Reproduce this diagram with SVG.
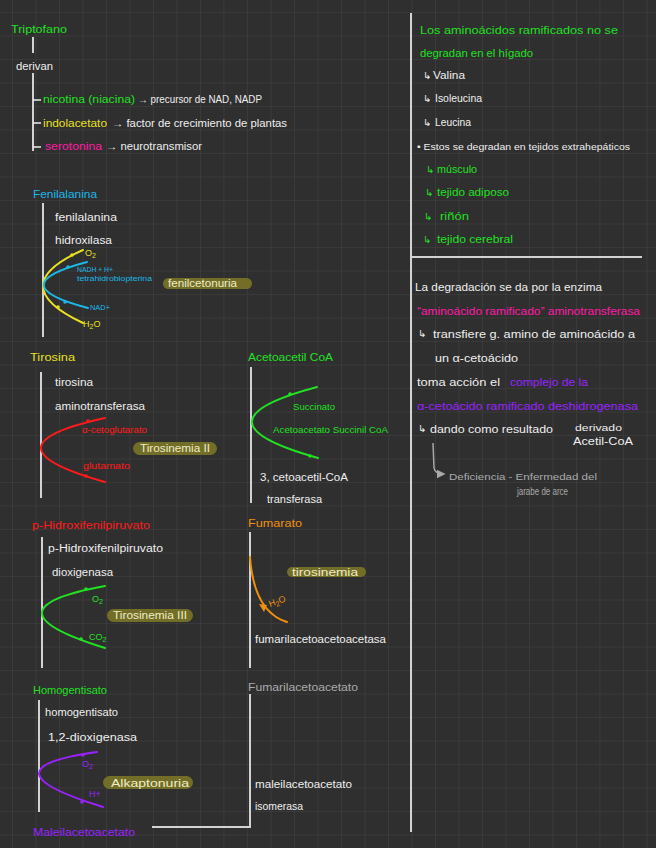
<svg xmlns="http://www.w3.org/2000/svg" width="656" height="848" viewBox="0 0 656 848">
<defs>
<pattern id="grid" x="12" y="12" width="23.5" height="23.5" patternUnits="userSpaceOnUse">
<path d="M0,0 H23.5 M0,0 V23.5" stroke="#3d3d3d" stroke-width="1.6" fill="none"/>
</pattern>
<marker id="ah" viewBox="0 0 6 6" refX="5" refY="3" markerWidth="6" markerHeight="6" orient="auto">
<path d="M0,0 L6,3 L0,6 z" fill="#a8a8a8"/>
</marker>
</defs>
<style>
text{font-family:"Liberation Sans","DejaVu Sans",Arial,sans-serif;font-size:10px;}
.h{font-size:11px;}
.s{font-size:9px;}
.xs{font-size:7px;}
.sym{font-family:"DejaVu Sans",sans-serif;font-size:10px;}
.w{fill:#eeeeee;}
.gr{fill:#aaaaaa;}
.g{fill:#22e022;}
.c{fill:#1cb8ea;}
.y{fill:#e8e020;}
.r{fill:#ff1a1a;}
.m{fill:#ff1aa8;}
.p{fill:#9a22ff;}
.o{fill:#f0900f;}
.pilltext{fill:#efecc4;}
.vl{stroke:#d2d2d2;stroke-width:2;fill:none;}
.pill{fill:#726e28;}
.cv{fill:none;stroke-width:2;stroke-linecap:round;}
</style>
<rect width="656" height="848" fill="#2f2f2f"/>
<rect width="656" height="848" fill="url(#grid)"/>

<g id="dividers">
<line class="vl" x1="411" y1="13" x2="411" y2="832"/>
<line class="vl" x1="411" y1="257" x2="642" y2="257"/>
</g>

<g id="triptofano">
<text class="g h" x="11" y="33" textLength="56" lengthAdjust="spacingAndGlyphs">Triptofano</text>
<line class="vl" x1="33" y1="37" x2="33" y2="53"/>
<text class="w" x="16" y="70" textLength="37" lengthAdjust="spacingAndGlyphs">derivan</text>
<line class="vl" x1="33" y1="73" x2="33" y2="151"/>
<g stroke="#eeeeee" stroke-width="1.5">
<line x1="33" y1="100" x2="41" y2="100"/>
<line x1="33" y1="123" x2="41" y2="123"/>
<line x1="33" y1="147" x2="41" y2="147"/>
</g>
<text class="g" x="43" y="103" textLength="92" lengthAdjust="spacingAndGlyphs">nicotina (niacina)</text>
<text class="w" x="138" y="103" textLength="124" lengthAdjust="spacingAndGlyphs">→ precursor de NAD, NADP</text>
<text class="y" x="43" y="127" textLength="64" lengthAdjust="spacingAndGlyphs">indolacetato</text>
<text class="w" x="112" y="127" textLength="175" lengthAdjust="spacingAndGlyphs">→ factor de crecimiento de plantas</text>
<text class="m" x="45" y="150" textLength="57" lengthAdjust="spacingAndGlyphs">serotonina</text>
<text class="w" x="106" y="150" textLength="96" lengthAdjust="spacingAndGlyphs">→ neurotransmisor</text>
</g>

<g id="fenilalanina">
<text class="c h" x="33" y="198" textLength="64" lengthAdjust="spacingAndGlyphs">Fenilalanina</text>
<line class="vl" x1="43" y1="203" x2="43" y2="337"/>
<text class="w" x="55" y="221" textLength="62" lengthAdjust="spacingAndGlyphs">fenilalanina</text>
<text class="w" x="55" y="244" textLength="57" lengthAdjust="spacingAndGlyphs">hidroxilasa</text>
<path class="cv" stroke="#e8e020" d="M83,250 Q3,285.5 83,323"/>
<path class="cv" stroke="#1cb8ea" d="M87,262 Q0,285 88,308"/>
<circle cx="72" cy="255" r="1.8" fill="#e8e020"/>
<circle cx="58" cy="307" r="1.8" fill="#e8e020"/>
<circle cx="68" cy="267" r="1.8" fill="#1cb8ea"/>
<circle cx="65" cy="302" r="1.8" fill="#1cb8ea"/>
<text class="y s" x="85" y="256">O<tspan font-size="7" dy="2">2</tspan></text>
<text class="y s" x="83" y="327">H<tspan font-size="7" dy="2">2</tspan><tspan dy="-2">O</tspan></text>
<text class="c xs" x="77" y="272" textLength="36" lengthAdjust="spacingAndGlyphs">NADH + H+</text>
<text class="c xs" x="77" y="281" textLength="75" lengthAdjust="spacingAndGlyphs">tetrahidrobiopterina</text>
<text class="c xs" x="90" y="310" textLength="20" lengthAdjust="spacingAndGlyphs">NAD+</text>
<rect class="pill" x="163" y="278" width="89" height="11" rx="5.5"/>
<text class="pilltext" x="168" y="287" textLength="69" lengthAdjust="spacingAndGlyphs">fenilcetonuria</text>
</g>

<g id="tirosina">
<text class="y h" x="30" y="361" textLength="45" lengthAdjust="spacingAndGlyphs">Tirosina</text>
<line class="vl" x1="41" y1="372" x2="41" y2="498"/>
<text class="w" x="55" y="386" textLength="38" lengthAdjust="spacingAndGlyphs">tirosina</text>
<text class="w" x="55" y="410" textLength="90" lengthAdjust="spacingAndGlyphs">aminotransferasa</text>
<path class="cv" stroke="#ff1a1a" d="M105,418 Q-23,446 105,482"/>
<circle cx="88" cy="421" r="1.8" fill="#ff1a1a"/>
<circle cx="86" cy="476" r="1.8" fill="#ff1a1a"/>
<text class="r s" x="82" y="433" textLength="65" lengthAdjust="spacingAndGlyphs">α-cetoglutarato</text>
<text class="r s" x="83" y="469" textLength="47" lengthAdjust="spacingAndGlyphs">glutamato</text>
<rect class="pill" x="133" y="442" width="84" height="13" rx="6.5"/>
<text class="pilltext" x="140" y="452" textLength="70" lengthAdjust="spacingAndGlyphs">Tirosinemia II</text>
</g>

<g id="acetoacetil">
<text class="g" x="248" y="361" font-size="12" textLength="85" lengthAdjust="spacingAndGlyphs">Acetoacetil CoA</text>
<line class="vl" x1="251" y1="367" x2="251" y2="503"/>
<path class="cv" stroke="#22e022" d="M317,387 Q186.5,421.5 318,458"/>
<circle cx="290" cy="394" r="1.8" fill="#22e022"/>
<circle cx="310" cy="456" r="1.8" fill="#22e022"/>
<text class="g s" x="293" y="410" textLength="42" lengthAdjust="spacingAndGlyphs">Succinato</text>
<text class="g s" x="273" y="433" textLength="115" lengthAdjust="spacingAndGlyphs">Acetoacetato Succinil CoA</text>
<text class="w" x="260" y="481" font-size="10.5" textLength="88" lengthAdjust="spacingAndGlyphs">3, cetoacetil-CoA</text>
<text class="w" x="267" y="503" textLength="55" lengthAdjust="spacingAndGlyphs">transferasa</text>
</g>

<g id="hidroxifenilpiruvato">
<text class="r h" x="32" y="529" textLength="118" lengthAdjust="spacingAndGlyphs">p-Hidroxifenilpiruvato</text>
<line class="vl" x1="42" y1="537" x2="42" y2="668"/>
<text class="w" x="48" y="552" textLength="115" lengthAdjust="spacingAndGlyphs">p-Hidroxifenilpiruvato</text>
<text class="w" x="52" y="576" textLength="61" lengthAdjust="spacingAndGlyphs">dioxigenasa</text>
<path class="cv" stroke="#22e022" d="M105,586 Q-21,609 105,648"/>
<circle cx="86" cy="589" r="1.8" fill="#22e022"/>
<circle cx="81" cy="639" r="1.8" fill="#22e022"/>
<text class="g s" x="92" y="602">O<tspan font-size="7" dy="2">2</tspan></text>
<text class="g s" x="89" y="640">CO<tspan font-size="7" dy="2">2</tspan></text>
<rect class="pill" x="107" y="609" width="86" height="13" rx="6.5"/>
<text class="pilltext" x="113" y="619" textLength="74" lengthAdjust="spacingAndGlyphs">Tirosinemia III</text>
</g>

<g id="fumarato">
<text class="o h" x="248" y="527" textLength="54" lengthAdjust="spacingAndGlyphs">Fumarato</text>
<line class="vl" x1="250" y1="532" x2="250" y2="668"/>
<path class="cv" stroke="#f0900f" d="M250,557 Q254,612 287,622"/>
<path d="M259,604 L264,612 L267,605 z" fill="#f0900f"/>
<text class="o s" x="270" y="607" transform="rotate(-20 270 607)">H<tspan font-size="7" dy="2">2</tspan><tspan dy="-2">O</tspan></text>
<rect class="pill" x="287" y="567" width="79" height="10" rx="5"/>
<text class="pilltext" x="292" y="576" textLength="66" lengthAdjust="spacingAndGlyphs">tirosinemia</text>
<text class="w" x="255" y="643" textLength="131" lengthAdjust="spacingAndGlyphs">fumarilacetoacetoacetasa</text>
</g>

<g id="homogentisato">
<text class="g h" x="33" y="694" textLength="74" lengthAdjust="spacingAndGlyphs">Homogentisato</text>
<line class="vl" x1="39" y1="700" x2="39" y2="812"/>
<text class="w" x="45" y="716" textLength="73" lengthAdjust="spacingAndGlyphs">homogentisato</text>
<text class="w" x="48" y="741" textLength="89" lengthAdjust="spacingAndGlyphs">1,2-dioxigenasa</text>
<path class="cv" stroke="#9a22ff" d="M97,752 Q-22,768.5 103,807"/>
<circle cx="83" cy="755" r="1.8" fill="#9a22ff"/>
<circle cx="82" cy="802" r="1.8" fill="#9a22ff"/>
<text class="p s" x="82" y="767">O<tspan font-size="7" dy="2">2</tspan></text>
<text class="p s" x="89" y="797">H+</text>
<rect class="pill" x="103" y="776" width="90" height="13" rx="6.5"/>
<text class="pilltext h" x="111" y="787" textLength="78" lengthAdjust="spacingAndGlyphs">Alkaptonuria</text>
<text class="p h" x="33" y="836" textLength="102" lengthAdjust="spacingAndGlyphs">Maleilacetoacetato</text>
</g>

<g id="fumarilacetoacetato">
<text class="gr h" x="248" y="691" textLength="110" lengthAdjust="spacingAndGlyphs">Fumarilacetoacetato</text>
<polyline class="vl" points="152,827 250,827 250,694"/>
<text class="w" x="255" y="788" textLength="97" lengthAdjust="spacingAndGlyphs">maleilacetoacetato</text>
<text class="w" x="255" y="810" textLength="48" lengthAdjust="spacingAndGlyphs">isomerasa</text>
</g>

<g id="ramificados">
<text class="g" x="420" y="34" textLength="198" lengthAdjust="spacingAndGlyphs">Los aminoácidos ramificados no se</text>
<text class="g" x="420" y="57" textLength="113" lengthAdjust="spacingAndGlyphs">degradan en el hígado</text>
<text class="sym w" x="423" y="79">↳</text>
<text class="w" x="433" y="79" textLength="32" lengthAdjust="spacingAndGlyphs">Valina</text>
<text class="sym w" x="423" y="102">↳</text>
<text class="w" x="435" y="102" textLength="47" lengthAdjust="spacingAndGlyphs">Isoleucina</text>
<text class="sym w" x="423" y="126">↳</text>
<text class="w" x="435" y="126" textLength="36" lengthAdjust="spacingAndGlyphs">Leucina</text>
<text class="w s" x="417" y="150" textLength="213" lengthAdjust="spacingAndGlyphs">• Estos se degradan en tejidos extrahepáticos</text>
<text class="sym g" x="426" y="173">↳</text>
<text class="g" x="437" y="173" textLength="40" lengthAdjust="spacingAndGlyphs">músculo</text>
<text class="sym g" x="425" y="196">↳</text>
<text class="g" x="437" y="196" textLength="72" lengthAdjust="spacingAndGlyphs">tejido adiposo</text>
<text class="sym g" x="424" y="220">↳</text>
<text class="g" x="440" y="220" textLength="29" lengthAdjust="spacingAndGlyphs">riñón</text>
<text class="sym g" x="423" y="243">↳</text>
<text class="g" x="437" y="243" textLength="76" lengthAdjust="spacingAndGlyphs">tejido cerebral</text>
</g>

<g id="degradacion">
<text class="w" x="415" y="291" textLength="187" lengthAdjust="spacingAndGlyphs">La degradación se da por la enzima</text>
<text class="m" x="417" y="315" textLength="223" lengthAdjust="spacingAndGlyphs">“aminoácido ramificado” aminotransferasa</text>
<text class="sym w" x="418" y="337">↳</text>
<text class="w h" x="433" y="338" textLength="202" lengthAdjust="spacingAndGlyphs">transfiere g. amino de aminoácido a</text>
<text class="w" x="435" y="362" textLength="83" lengthAdjust="spacingAndGlyphs">un α-cetoácido</text>
<text class="w" x="417" y="386" textLength="83" lengthAdjust="spacingAndGlyphs">toma acción el</text>
<text class="p" x="510" y="386" textLength="78" lengthAdjust="spacingAndGlyphs">complejo de la</text>
<text class="p" x="417" y="410" textLength="221" lengthAdjust="spacingAndGlyphs">α-cetoácido ramificado deshidrogenasa</text>
<text class="sym w" x="418" y="432">↳</text>
<text class="w" x="430" y="433" textLength="123" lengthAdjust="spacingAndGlyphs">dando como resultado</text>
<text class="w s" x="575" y="431" textLength="47" lengthAdjust="spacingAndGlyphs">derivado</text>
<text class="w" x="573" y="445" textLength="60" lengthAdjust="spacingAndGlyphs">Acetil-CoA</text>
<path d="M433,443 L434,468 Q435,474 444,474" fill="none" stroke="#a8a8a8" stroke-width="1.5" marker-end="url(#ah)"/>
<text class="gr s" x="449" y="480" textLength="148" lengthAdjust="spacingAndGlyphs">Deficiencia - Enfermedad del</text>
<text class="gr" x="517" y="495" font-size="8" textLength="51" lengthAdjust="spacingAndGlyphs">jarabe de arce</text>
</g>
</svg>
